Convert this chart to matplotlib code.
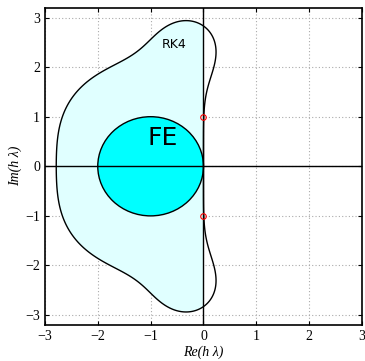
import numpy as np
import matplotlib
matplotlib.use("Agg")
import matplotlib.pyplot as plt
from matplotlib.patches import Circle

# Stability polynomial coefficients (RK4: 1 + z + z^2/2 + z^3/6 + z^4/24)
rk4_coeffs = [1, 1, 1 / 2, 1 / 6, 1 / 24]
# Forward Euler stability disc: |1 + z| <= 1
fe_center = (-1.0, 0.0)
fe_radius = 1.0
# Marked points on the imaginary axis
marker_re = [0, 0]
marker_im = [1, -1]
ticks = [-3, -2, -1, 0, 1, 2, 3]

x = np.linspace(-3.2, 3.2, 801)
y = np.linspace(-3.4, 3.4, 801)
X, Y = np.meshgrid(x, y)
Z = X + 1j * Y
R = np.zeros_like(Z)
for k, c in enumerate(rk4_coeffs):
    R = R + c * Z ** k
absR = np.abs(R)
# shading only in the left half-plane
absR_left = np.where(X <= 0, absR, 10.0)

fig = plt.figure(figsize=(3.65, 3.61), dpi=100)
ax = fig.add_axes([0.123, 0.0997, 0.869, 0.8793])

ax.contourf(X, Y, absR_left, levels=[0, 1], colors=["#e0ffff"], zorder=1)
ax.contour(X, Y, absR, levels=[1], colors="black", linewidths=1.0, zorder=3)

ax.add_patch(Circle(fe_center, fe_radius, facecolor="#00ffff",
                    edgecolor="black", linewidth=1.0, zorder=2))

ax.axhline(0, color="black", linewidth=1.0, zorder=4)
ax.axvline(0, color="black", linewidth=1.0, zorder=4)
ax.plot(marker_re, marker_im, "o", markersize=4, markerfacecolor="none",
        markeredgecolor="red", markeredgewidth=0.8, zorder=5)

ax.text(-0.77, 0.58, "FE", fontsize=18, family="DejaVu Sans",
        ha="center", va="center", zorder=6)
ax.text(-0.55, 2.45, "RK4", fontsize=9, family="DejaVu Sans",
        ha="center", va="center", zorder=6)

ax.set_xlim(-3, 3)
ax.set_ylim(-3.2, 3.2)
ax.set_xticks(ticks)
ax.set_yticks(ticks)
ax.set_xticklabels([str(t).replace("-", "\u2212") for t in ticks],
                   family="Liberation Serif", fontsize=10)
ax.set_yticklabels([str(t).replace("-", "\u2212") for t in ticks],
                   family="Liberation Serif", fontsize=10)
ax.tick_params(direction="in", top=True, right=True, length=3, width=0.8)
ax.grid(True, linestyle=(0, (1, 2)), color="#aaaaaa", linewidth=0.8, zorder=0)
ax.set_axisbelow(True)
for s in ax.spines.values():
    s.set_linewidth(1.2)

ax.set_xlabel("Re(h \u03bb)", family="Liberation Serif", style="italic",
              fontsize=10, labelpad=2)
ax.set_ylabel("Im(h \u03bb)", family="Liberation Serif", style="italic",
              fontsize=10, labelpad=2)

fig.savefig("out.png", dpi=100)
